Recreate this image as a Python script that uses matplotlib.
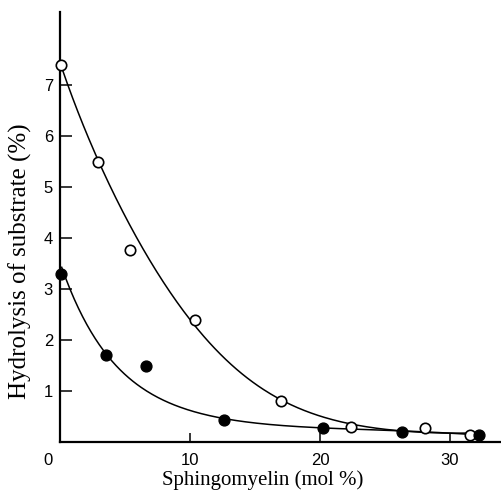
import numpy as np
import matplotlib
matplotlib.use('Agg')
import matplotlib.pyplot as plt

# open circles
open_x = [0.1, 2.9, 5.4, 10.4, 17.0, 22.4, 28.1, 31.5]
open_y = [7.4, 5.5, 3.76, 2.39, 0.80, 0.29, 0.27, 0.13]
# filled circles
fill_x = [0.05, 3.5, 6.6, 12.6, 20.2, 26.3, 32.2]
fill_y = [3.3, 1.70, 1.50, 0.43, 0.28, 0.20, 0.14]

# hand-drawn curves
open_curve_x = [0.13, 0.69, 2.0, 2.87, 3.85, 5.56, 6.15, 6.92, 10.38, 13.6, 17.0, 22.3, 26.2, 31.3]
open_curve_y = [7.46, 7.0, 5.99, 5.56, 5.07, 4.03, 3.76, 3.50, 2.41, 1.54, 0.80, 0.31, 0.25, 0.17]
fill_curve_x = [0.13, 0.82, 2.87, 6.67, 10.26, 12.5, 15.4, 20.1, 26.4, 32.2]
fill_curve_y = [3.34, 3.01, 2.0, 1.02, 0.59, 0.44, 0.37, 0.29, 0.21, 0.14]

xticks = [10, 20, 30]
yticks = [1, 2, 3, 4, 5, 6, 7]

fig = plt.figure(figsize=(5.01, 4.91), dpi=100)
ax = fig.add_axes([60/501, 49/491, 441/501, 430/491])

# smooth the read-off curves with a polynomial in log space
for cx, cy, deg in [(open_curve_x, open_curve_y, 4), (fill_curve_x, fill_curve_y, 4)]:
    p = np.polyfit(cx, np.log(cy), deg)
    xs = np.linspace(cx[0], cx[-1], 300)
    ax.plot(xs, np.exp(np.polyval(p, xs)), color='black', lw=1.1, zorder=2)

ax.plot(open_x, open_y, 'o', ms=7.5, mfc='white', mec='black', mew=1.2, zorder=3, clip_on=False)
ax.plot(fill_x, fill_y, 'o', ms=7.8, mfc='black', mec='black', zorder=3, clip_on=False)

ax.set_xlim(0, 441/13)
ax.set_ylim(0, 430/51)
ax.spines['top'].set_visible(False)
ax.spines['right'].set_visible(False)
ax.spines['left'].set_linewidth(1.6)
ax.spines['bottom'].set_linewidth(1.6)

ax.set_xticks(xticks)
ax.set_yticks(yticks)
ax.tick_params(axis='x', direction='in', length=6.5, width=1.1, pad=8, labelsize=12)
ax.tick_params(axis='y', direction='in', length=8.6, width=1.1, pad=5, labelsize=12)
for lab in ax.get_xticklabels() + ax.get_yticklabels():
    lab.set_family('Liberation Sans')
ax.text(-0.9, -0.025, '0', transform=ax.get_xaxis_transform(), ha='center', va='top',
        fontsize=12, family='Liberation Sans')

ax.set_xlabel('Sphingomyelin (mol %)', family='Liberation Serif', fontsize=15)
ax.xaxis.set_label_coords(0.46, -0.065)
ax.set_ylabel('Hydrolysis of substrate (%)', family='Liberation Serif', fontsize=18)
ax.yaxis.set_label_coords(-0.063, 0.42)

fig.savefig('out.png', dpi=100)
